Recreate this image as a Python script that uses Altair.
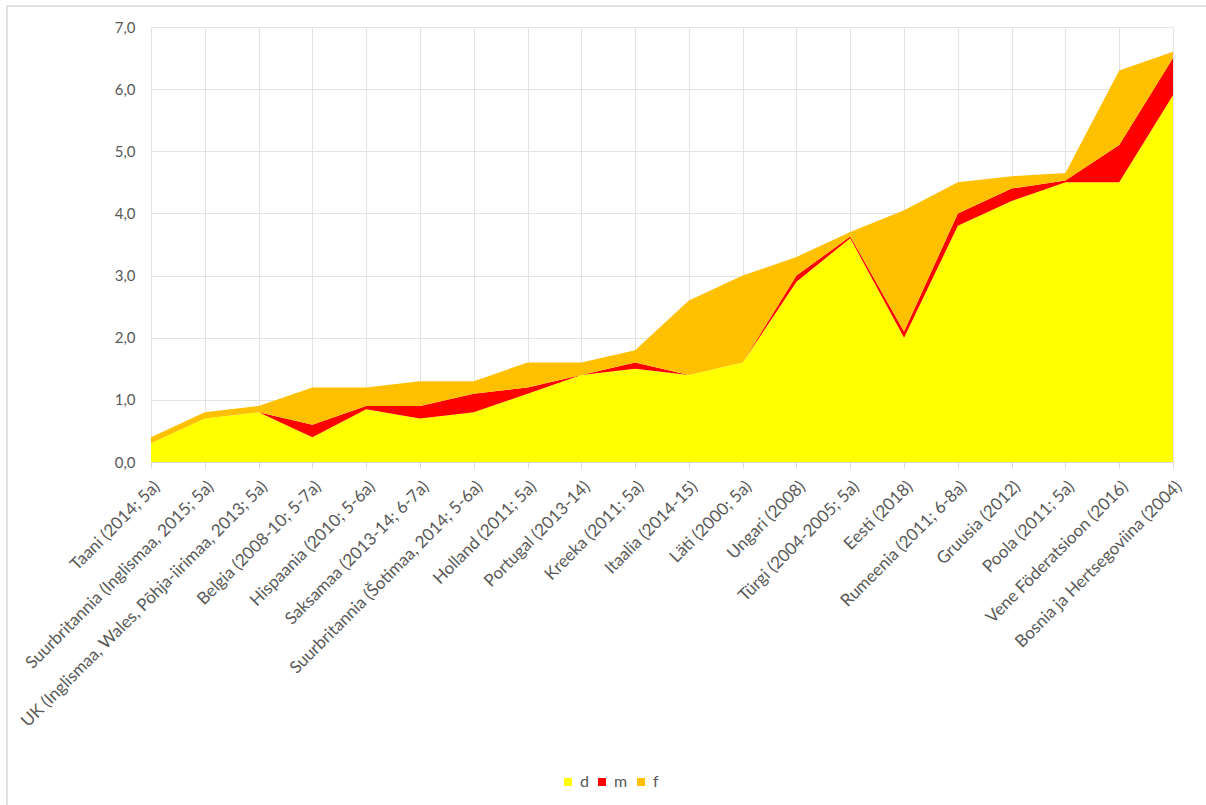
import altair as alt
import pandas as pd

# Categories (country, survey year; age)
categories = [
    "Taani (2014; 5a)",
    "Suurbritannia (Inglismaa, 2015; 5a)",
    "UK (Inglismaa, Wales, Põhja-iirimaa, 2013; 5a)",
    "Belgia (2008-10; 5-7a)",
    "Hispaania (2010; 5-6a)",
    "Saksamaa (2013-14; 6-7a)",
    "Suurbritannia (Šotimaa, 2014; 5-6a)",
    "Holland (2011; 5a)",
    "Portugal (2013-14)",
    "Kreeka (2011; 5a)",
    "Itaalia (2014-15)",
    "Läti (2000; 5a)",
    "Ungari (2008)",
    "Türgi (2004-2005; 5a)",
    "Eesti (2018)",
    "Rumeenia (2011; 6-8a)",
    "Gruusia (2012)",
    "Poola (2011; 5a)",
    "Vene Föderatsioon (2016)",
    "Bosnia ja Hertsegoviina (2004)",
]

d_values = [0.3, 0.7, 0.8, 0.4, 0.85, 0.7, 0.8, 1.1, 1.4, 1.5,
            1.4, 1.6, 2.9, 3.6, 2.0, 3.8, 4.2, 4.5, 4.5, 5.9]
m_values = [0.0, 0.0, 0.0, 0.2, 0.05, 0.2, 0.3, 0.1, 0.0, 0.1,
            0.0, 0.0, 0.1, 0.03, 0.1, 0.2, 0.2, 0.03, 0.6, 0.6]
f_values = [0.1, 0.1, 0.1, 0.6, 0.3, 0.4, 0.2, 0.4, 0.2, 0.2,
            1.2, 1.4, 0.3, 0.07, 1.95, 0.5, 0.2, 0.12, 1.2, 0.1]

series_names = ["d", "m", "f"]
series_colors = ["#FFFF00", "#FF0000", "#FFC000"]

rows = []
for order, (name, vals) in enumerate(zip(series_names, [d_values, m_values, f_values])):
    for cat, v in zip(categories, vals):
        rows.append({"cat": cat, "series": name, "value": v, "order": order})
df = pd.DataFrame(rows)

FONT = "Lato"
GREY = "#595959"
W, H = 1022, 435

areas = alt.Chart(df).mark_area(opacity=1, interpolate="linear").encode(
    x=alt.X("cat:N", sort=categories, title=None,
            scale=alt.Scale(padding=0),
            axis=alt.Axis(labelAngle=-45, labelFontSize=17, labelFont=FONT,
                          labelColor=GREY, labelLimit=400, labelPadding=10,
                          domainColor="#D9D9D9", tickColor="#D9D9D9", tickSize=6,
                          grid=True, gridColor="#E3E3E3")),
    y=alt.Y("value:Q", stack="zero", title=None,
            scale=alt.Scale(domain=[0, 7], nice=False),
            axis=alt.Axis(values=[0, 1, 2, 3, 4, 5, 6, 7],
                          labelExpr="replace(format(datum.value, '.1f'), '.', ',')",
                          labelFontSize=15, labelFont=FONT, labelColor=GREY,
                          labelPadding=16, domain=False, ticks=False,
                          gridColor="#E3E3E3")),
    color=alt.Color("series:N",
                    scale=alt.Scale(domain=series_names, range=series_colors),
                    legend=alt.Legend(title=None, orient="none", direction="horizontal",
                                      legendX=409, legendY=747,
                                      symbolType="square", symbolSize=64,
                                      symbolStrokeWidth=0,
                                      labelFontSize=16, labelFont=FONT, labelColor=GREY,
                                      columnPadding=5, labelOffset=4)),
    order=alt.Order("order:Q"),
)

# Light frame of the chart area (right and bottom edges fall outside the page)
frame = alt.Chart(pd.DataFrame({"k": [0]})).mark_rect(
    fill=None, stroke="#D9D9D9", strokeWidth=1.5
).encode(
    x=alt.value(-144), x2=alt.value(1120),
    y=alt.value(-21), y2=alt.value(840),
)

chart = alt.layer(frame, areas).properties(
    width=W, height=H,
    padding={"left": 151, "top": 27, "right": 33, "bottom": 343},
    autosize=alt.AutoSizeParams(type="none"),
    background="white",
).configure_view(stroke=None)

chart.save("out.html", embed_options={"renderer": "svg", "actions": False})
